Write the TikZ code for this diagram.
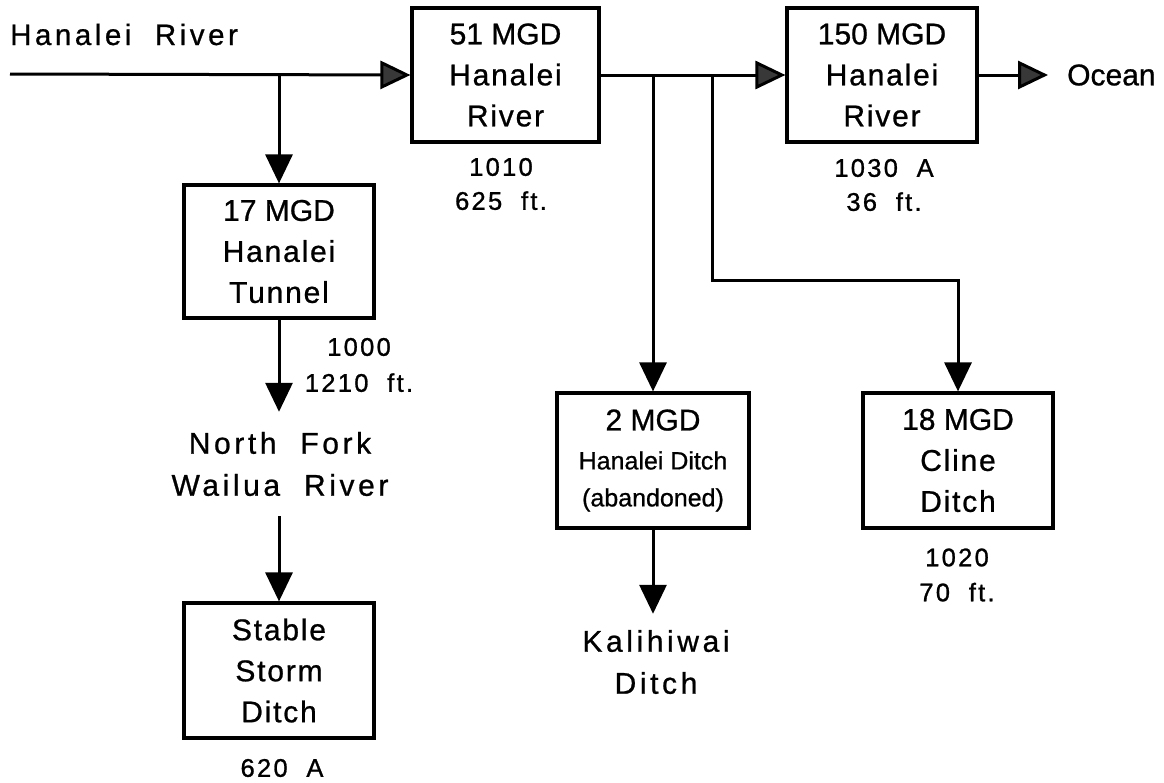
\documentclass[tikz,border=0pt]{standalone}
\usepackage{fontspec}
\setmainfont{Liberation Sans}[FakeBold=0.8]
\newfontfamily\boxfam{Liberation Sans}[LetterSpace=6,FakeBold=0.8]
\newfontfamily\widefam{Liberation Sans}[LetterSpace=12,FakeBold=0.8]
\newfontfamily\smallfam{Liberation Sans}[LetterSpace=9,FakeBold=1]
\usetikzlibrary{arrows.meta}
\tikzset{
  flow/.style={line width=3pt},
  arrV/.style={flow,-{Triangle[length=29pt,width=27pt]}},
  arrH/.style={flow,-{Triangle[length=30pt,width=28pt,fill=black!78]}},
  box/.style={draw,line width=3.2pt,minimum width=190pt,minimum height=134pt,
    inner sep=0pt,align=center,font=\boxfam\fontsize{30}{41}\selectfont},
  biglabel/.style={inner xsep=0pt,align=center,font=\widefam\fontsize{30}{42}\selectfont},
  smalllabel/.style={inner sep=0pt,align=center,font=\smallfam\fontsize{25.5}{34}\selectfont}
}
\begin{document}
\begin{tikzpicture}[x=1pt,y=-1pt]
\useasboundingbox[fill=white] (0,0) rectangle (1164,782);

% boxes
\node[box,minimum width=187pt] (b51) at (505.5,75) {{\rmfamily 51 MGD}\\Hanalei\\River};
\node[box] (b150) at (882,75) {{\rmfamily 150 MGD}\\Hanalei\\River};
\node[box,minimum height=133pt] (b17) at (279,251.5) {{\rmfamily 17 MGD}\\Hanalei\\Tunnel};
\node[box,minimum height=135pt] (bss) at (279,670.5) {Stable\\Storm\\Ditch};
\node[box,minimum width=192pt,minimum height=135pt] (b2) at (653,460.5)
  {{\rmfamily 2 MGD}\\[-2pt]{\rmfamily\fontsize{25}{36}\selectfont Hanalei Ditch}\\[-4pt]{\rmfamily\fontsize{25}{36}\selectfont (abandoned)}};
\node[box,minimum height=135pt] (b18) at (958,460.5) {{\rmfamily 18 MGD}\\Cline\\Ditch};

% free labels
\node[anchor=base west,inner sep=0pt,font=\widefam\fontsize{29.5}{36}\selectfont] (hr) at (10,45) {Hanalei\ \ River};
\coordinate (src) at (10,74);
\node[anchor=west,inner xsep=19pt,inner ysep=0pt,font=\rmfamily\fontsize{30}{36}\selectfont] (ocean) at (1048,75) {Ocean};
\node[biglabel,inner ysep=20pt] (nf) at (280,464) {North\ \ Fork\\Wailua\ \ River};
\node[biglabel,inner ysep=16pt] (kal) at (656,662) {Kalihiwai\\Ditch};

\node[smalllabel] (l1010) at (501,184) {1010\\625\ \ ft.};
\node[smalllabel] (l1030) at (884,185) {1030\ \ A\\36\ \ ft.};
\node[smalllabel,font=\smallfam\fontsize{25.5}{36}\selectfont] (l1000) at (359,365) {1000\\1210\ \ ft.};
\node[smalllabel,font=\smallfam\fontsize{25.5}{35}\selectfont] (l1020) at (957,575) {1020\\70\ \ ft.};
\node[smalllabel] (l620) at (282,768) {620\ \ A};

% connectors
\draw[arrH] (src) -- (b51.west);
\draw[arrV] (b17.north |- src) -- (b17.north);
\draw[arrH] (b51.east) -- (b150.west);
\draw[arrH] (b150.east) -- (ocean.west);
\draw[arrV] (b51.east -| b2.north) -- (b2.north);
\coordinate (bend) at (712,280);
\draw[arrV] (b51.east -| bend) -- (bend) -| (b18.north);
\draw[arrV] (b17.south) -- (b17.south |- nf.north);
\draw[arrV] (b17.south |- nf.south) -- (bss.north);
\draw[arrV] (b2.south) -- (b2.south |- kal.north);
\end{tikzpicture}
\end{document}
